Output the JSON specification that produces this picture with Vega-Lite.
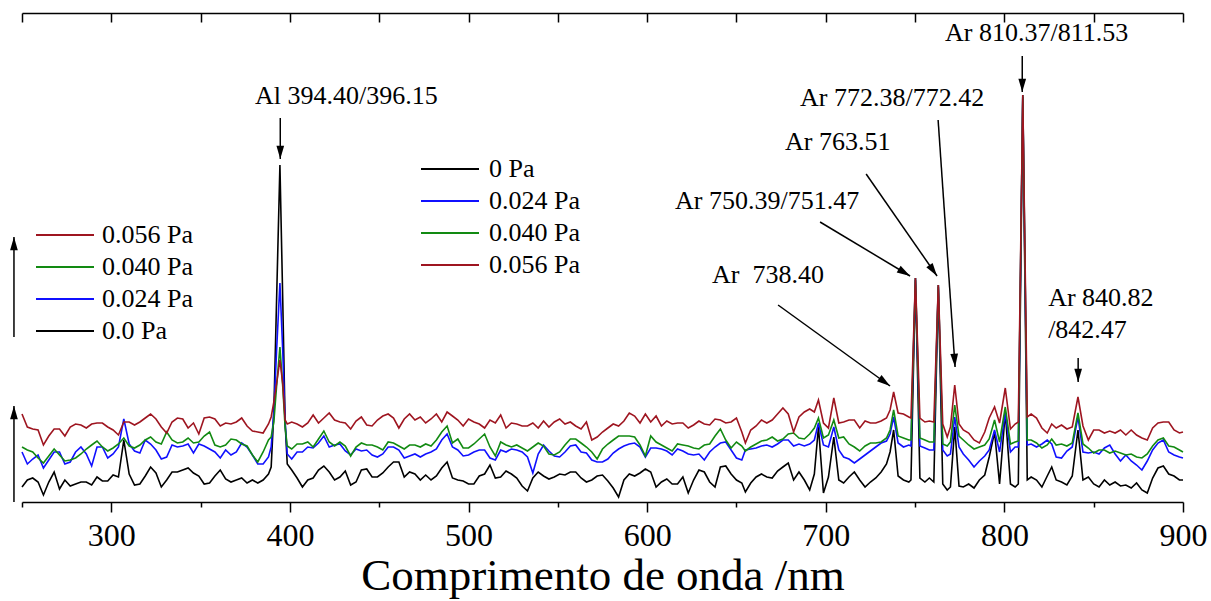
{
  "$schema": "https://vega.github.io/schema/vega-lite/v6.json",
  "width": 1161,
  "height": 489,
  "autosize": {"type": "none"},
  "padding": {"left": 22, "top": 13, "right": 28, "bottom": 99},
  "background": "white",
  "config": {"view": {"stroke": null}, "font": "Liberation Serif, Times New Roman, DejaVu Serif, serif"},
  "datasets": {
    "spectra": [
      {"w":250,"k":15,"b":50,"g":55,"r":88},
      {"w":253,"k":22,"b":38,"g":52,"r":75},
      {"w":256,"k":24,"b":43,"g":50,"r":73},
      {"w":259,"k":20,"b":47,"g":44,"r":72},
      {"w":262,"k":7,"b":34,"g":39,"r":57},
      {"w":265,"k":20,"b":42,"g":46,"r":66},
      {"w":268,"k":30,"b":50,"g":53,"r":73},
      {"w":271,"k":13,"b":50,"g":47,"r":73},
      {"w":274,"k":22,"b":38,"g":41,"r":66},
      {"w":277,"k":16,"b":40,"g":42,"r":75},
      {"w":280,"k":18,"b":50,"g":44,"r":78},
      {"w":283,"k":20,"b":55,"g":48,"r":77},
      {"w":286,"k":20,"b":48,"g":53,"r":74},
      {"w":289,"k":17,"b":36,"g":57,"r":78},
      {"w":292,"k":25,"b":55,"g":61,"r":79},
      {"w":295,"k":21,"b":55,"g":55,"r":79},
      {"w":298,"k":21,"b":44,"g":51,"r":75},
      {"w":301,"k":27,"b":48,"g":54,"r":72},
      {"w":304,"k":25,"b":55,"g":58,"r":67},
      {"w":307,"k":62,"b":83,"g":64,"r":80},
      {"w":310,"k":28,"b":58,"g":56,"r":80},
      {"w":313,"k":17,"b":51,"g":54,"r":77},
      {"w":316,"k":18,"b":49,"g":57,"r":80},
      {"w":319,"k":26,"b":62,"g":62,"r":84},
      {"w":322,"k":35,"b":58,"g":65,"r":88},
      {"w":325,"k":29,"b":52,"g":60,"r":83},
      {"w":328,"k":15,"b":43,"g":58,"r":75},
      {"w":331,"k":22,"b":45,"g":70,"r":69},
      {"w":334,"k":30,"b":57,"g":62,"r":80},
      {"w":337,"k":30,"b":55,"g":59,"r":84},
      {"w":340,"k":32,"b":56,"g":60,"r":83},
      {"w":343,"k":34,"b":58,"g":64,"r":74},
      {"w":346,"k":29,"b":49,"g":59,"r":79},
      {"w":349,"k":26,"b":58,"g":60,"r":68},
      {"w":352,"k":18,"b":56,"g":66,"r":84},
      {"w":355,"k":19,"b":53,"g":70,"r":85},
      {"w":358,"k":26,"b":50,"g":57,"r":83},
      {"w":361,"k":32,"b":44,"g":55,"r":76},
      {"w":364,"k":23,"b":52,"g":57,"r":79},
      {"w":367,"k":20,"b":47,"g":63,"r":78},
      {"w":370,"k":22,"b":50,"g":62,"r":80},
      {"w":373,"k":24,"b":59,"g":58,"r":84},
      {"w":376,"k":19,"b":55,"g":56,"r":76},
      {"w":379,"k":22,"b":47,"g":47,"r":71},
      {"w":382,"k":19,"b":38,"g":40,"r":70},
      {"w":385,"k":22,"b":38,"g":50,"r":69},
      {"w":388,"k":28,"b":45,"g":62,"r":78},
      {"w":389.5,"k":35,"b":55,"g":65,"r":85},
      {"w":391,"k":90,"b":90,"g":80,"r":100},
      {"w":392.5,"k":200,"b":150,"g":115,"r":118},
      {"w":394.4,"k":337,"b":219,"g":155,"r":142},
      {"w":396,"k":200,"b":150,"g":115,"r":118},
      {"w":397.3,"k":80,"b":80,"g":75,"r":82},
      {"w":398.5,"k":38,"b":48,"g":56,"r":78},
      {"w":401,"k":32,"b":43,"g":53,"r":80},
      {"w":404,"k":24,"b":50,"g":58,"r":78},
      {"w":407,"k":15,"b":50,"g":58,"r":75},
      {"w":410,"k":22,"b":55,"g":60,"r":79},
      {"w":413,"k":24,"b":54,"g":55,"r":87},
      {"w":416,"k":32,"b":59,"g":63,"r":79},
      {"w":419,"k":36,"b":66,"g":71,"r":84},
      {"w":422,"k":30,"b":55,"g":60,"r":89},
      {"w":425,"k":22,"b":57,"g":56,"r":82},
      {"w":428,"k":25,"b":58,"g":60,"r":80},
      {"w":431,"k":31,"b":51,"g":56,"r":79},
      {"w":434,"k":17,"b":47,"g":46,"r":73},
      {"w":437,"k":20,"b":53,"g":55,"r":81},
      {"w":440,"k":32,"b":51,"g":59,"r":85},
      {"w":443,"k":33,"b":52,"g":57,"r":77},
      {"w":446,"k":25,"b":47,"g":57,"r":76},
      {"w":449,"k":25,"b":45,"g":55,"r":82},
      {"w":452,"k":29,"b":48,"g":52,"r":86},
      {"w":455,"k":35,"b":55,"g":60,"r":88},
      {"w":458,"k":40,"b":55,"g":59,"r":84},
      {"w":461,"k":40,"b":52,"g":56,"r":74},
      {"w":464,"k":25,"b":44,"g":53,"r":83},
      {"w":467,"k":30,"b":46,"g":57,"r":88},
      {"w":470,"k":28,"b":48,"g":57,"r":82},
      {"w":473,"k":22,"b":45,"g":55,"r":85},
      {"w":476,"k":27,"b":48,"g":58,"r":79},
      {"w":479,"k":22,"b":50,"g":56,"r":83},
      {"w":482,"k":26,"b":53,"g":62,"r":88},
      {"w":485,"k":34,"b":62,"g":70,"r":80},
      {"w":488,"k":40,"b":68,"g":76,"r":90},
      {"w":491,"k":24,"b":55,"g":59,"r":86},
      {"w":494,"k":22,"b":52,"g":63,"r":82},
      {"w":497,"k":21,"b":46,"g":54,"r":76},
      {"w":500,"k":18,"b":47,"g":54,"r":83},
      {"w":503,"k":18,"b":50,"g":58,"r":80},
      {"w":506,"k":26,"b":52,"g":63,"r":78},
      {"w":509,"k":28,"b":52,"g":68,"r":74},
      {"w":512,"k":37,"b":44,"g":55,"r":82},
      {"w":515,"k":24,"b":42,"g":46,"r":79},
      {"w":518,"k":25,"b":52,"g":60,"r":87},
      {"w":521,"k":31,"b":50,"g":57,"r":74},
      {"w":524,"k":28,"b":53,"g":55,"r":79},
      {"w":527,"k":24,"b":52,"g":57,"r":78},
      {"w":530,"k":16,"b":50,"g":54,"r":76},
      {"w":533,"k":11,"b":45,"g":51,"r":76},
      {"w":536,"k":24,"b":29,"g":55,"r":79},
      {"w":539,"k":30,"b":48,"g":59,"r":74},
      {"w":542,"k":26,"b":57,"g":56,"r":81},
      {"w":545,"k":23,"b":51,"g":48,"r":75},
      {"w":548,"k":25,"b":46,"g":47,"r":80},
      {"w":551,"k":28,"b":45,"g":50,"r":83},
      {"w":554,"k":27,"b":50,"g":57,"r":78},
      {"w":557,"k":30,"b":56,"g":63,"r":80},
      {"w":560,"k":30,"b":57,"g":63,"r":76},
      {"w":563,"k":24,"b":50,"g":59,"r":73},
      {"w":566,"k":20,"b":49,"g":55,"r":80},
      {"w":569,"k":22,"b":42,"g":50,"r":62},
      {"w":572,"k":26,"b":40,"g":43,"r":65},
      {"w":575,"k":27,"b":40,"g":53,"r":70},
      {"w":578,"k":21,"b":43,"g":58,"r":74},
      {"w":581,"k":14,"b":49,"g":62,"r":78},
      {"w":584,"k":5,"b":53,"g":66,"r":76},
      {"w":587,"k":22,"b":56,"g":66,"r":81},
      {"w":590,"k":28,"b":58,"g":66,"r":89},
      {"w":593,"k":26,"b":59,"g":65,"r":86},
      {"w":596,"k":29,"b":55,"g":57,"r":79},
      {"w":599,"k":33,"b":45,"g":46,"r":88},
      {"w":602,"k":30,"b":54,"g":66,"r":80},
      {"w":605,"k":15,"b":54,"g":60,"r":86},
      {"w":608,"k":20,"b":53,"g":57,"r":76},
      {"w":611,"k":23,"b":51,"g":54,"r":81},
      {"w":614,"k":18,"b":47,"g":51,"r":78},
      {"w":617,"k":18,"b":53,"g":58,"r":79},
      {"w":620,"k":25,"b":51,"g":57,"r":79},
      {"w":623,"k":9,"b":48,"g":56,"r":74},
      {"w":626,"k":22,"b":47,"g":54,"r":77},
      {"w":629,"k":32,"b":48,"g":53,"r":81},
      {"w":632,"k":30,"b":42,"g":57,"r":78},
      {"w":635,"k":20,"b":50,"g":58,"r":77},
      {"w":638,"k":15,"b":55,"g":66,"r":83},
      {"w":641,"k":35,"b":59,"g":73,"r":82},
      {"w":644,"k":36,"b":60,"g":62,"r":79},
      {"w":647,"k":28,"b":52,"g":54,"r":80},
      {"w":650,"k":22,"b":44,"g":60,"r":84},
      {"w":653,"k":19,"b":42,"g":56,"r":70},
      {"w":655,"k":10,"b":52,"g":51,"r":59},
      {"w":658,"k":19,"b":53,"g":55,"r":72},
      {"w":661,"k":25,"b":54,"g":58,"r":76},
      {"w":664,"k":28,"b":56,"g":61,"r":82},
      {"w":667,"k":25,"b":57,"g":62,"r":79},
      {"w":670,"k":24,"b":55,"g":65,"r":82},
      {"w":673,"k":31,"b":58,"g":61,"r":88},
      {"w":676,"k":35,"b":62,"g":63,"r":94},
      {"w":679,"k":39,"b":62,"g":68,"r":88},
      {"w":682,"k":22,"b":56,"g":69,"r":70},
      {"w":685,"k":30,"b":58,"g":64,"r":85},
      {"w":688,"k":22,"b":56,"g":63,"r":90},
      {"w":691,"k":12,"b":58,"g":68,"r":93},
      {"w":693.6,"k":28,"b":62,"g":74,"r":90},
      {"w":695.9,"k":75,"b":79,"g":84,"r":102},
      {"w":698.7,"k":9,"b":57,"g":64,"r":79},
      {"w":701.5,"k":25,"b":55,"g":67,"r":74},
      {"w":704.5,"k":65,"b":75,"g":82,"r":104},
      {"w":707.3,"k":22,"b":52,"g":64,"r":79},
      {"w":710,"k":19,"b":45,"g":65,"r":80},
      {"w":713,"k":25,"b":43,"g":58,"r":82},
      {"w":716,"k":30,"b":39,"g":55,"r":82},
      {"w":719,"k":22,"b":43,"g":51,"r":74},
      {"w":722,"k":15,"b":47,"g":56,"r":81},
      {"w":725,"k":20,"b":51,"g":59,"r":79},
      {"w":728,"k":24,"b":55,"g":59,"r":79},
      {"w":731,"k":30,"b":59,"g":60,"r":81},
      {"w":734,"k":38,"b":61,"g":64,"r":84},
      {"w":736,"k":50,"b":68,"g":72,"r":92},
      {"w":738,"k":72,"b":85,"g":92,"r":110},
      {"w":740.5,"k":26,"b":59,"g":66,"r":89},
      {"w":743.5,"k":22,"b":55,"g":64,"r":88},
      {"w":746.5,"k":20,"b":57,"g":62,"r":85},
      {"w":747.7,"k":22,"b":56,"g":62,"r":84},
      {"w":750.2,"k":222,"b":224,"g":224,"r":224},
      {"w":752.7,"k":24,"b":56,"g":64,"r":84},
      {"w":755.5,"k":20,"b":54,"g":62,"r":80},
      {"w":758,"k":24,"b":52,"g":60,"r":81},
      {"w":760.5,"k":20,"b":52,"g":60,"r":80},
      {"w":763,"k":215,"b":217,"g":217,"r":217},
      {"w":765.5,"k":18,"b":52,"g":58,"r":78},
      {"w":768,"k":12,"b":46,"g":56,"r":65},
      {"w":769.8,"k":15,"b":48,"g":60,"r":75},
      {"w":772.2,"k":75,"b":85,"g":97,"r":117},
      {"w":774.6,"k":16,"b":55,"g":66,"r":78},
      {"w":777,"k":15,"b":48,"g":62,"r":72},
      {"w":780,"k":18,"b":42,"g":57,"r":69},
      {"w":783,"k":14,"b":35,"g":53,"r":62},
      {"w":786,"k":22,"b":41,"g":55,"r":59},
      {"w":789,"k":27,"b":46,"g":57,"r":70},
      {"w":791.5,"k":45,"b":52,"g":63,"r":84},
      {"w":794.5,"k":70,"b":72,"g":82,"r":95},
      {"w":797.3,"k":18,"b":50,"g":60,"r":79},
      {"w":800.5,"k":90,"b":89,"g":95,"r":114},
      {"w":803.4,"k":18,"b":50,"g":58,"r":73},
      {"w":806,"k":15,"b":55,"g":60,"r":78},
      {"w":807.8,"k":18,"b":55,"g":61,"r":80},
      {"w":810.3,"k":405,"b":407,"g":407,"r":407},
      {"w":812.8,"k":22,"b":57,"g":62,"r":85},
      {"w":815,"k":25,"b":58,"g":62,"r":88},
      {"w":818,"k":22,"b":55,"g":59,"r":84},
      {"w":821,"k":15,"b":58,"g":54,"r":74},
      {"w":824,"k":26,"b":62,"g":57,"r":69},
      {"w":826.5,"k":35,"b":58,"g":63,"r":78},
      {"w":829,"k":22,"b":45,"g":57,"r":74},
      {"w":832,"k":20,"b":44,"g":58,"r":77},
      {"w":835,"k":17,"b":51,"g":56,"r":73},
      {"w":838,"k":26,"b":55,"g":59,"r":75},
      {"w":841.2,"k":72,"b":85,"g":89,"r":105},
      {"w":844,"k":22,"b":50,"g":58,"r":76},
      {"w":847,"k":25,"b":49,"g":54,"r":62},
      {"w":850,"k":18,"b":50,"g":49,"r":72},
      {"w":853,"k":15,"b":48,"g":52,"r":72},
      {"w":856,"k":22,"b":54,"g":52,"r":69},
      {"w":859,"k":17,"b":57,"g":49,"r":71},
      {"w":862,"k":20,"b":48,"g":51,"r":69},
      {"w":865,"k":16,"b":41,"g":49,"r":72},
      {"w":868,"k":17,"b":47,"g":47,"r":67},
      {"w":871,"k":14,"b":41,"g":48,"r":72},
      {"w":874,"k":19,"b":37,"g":45,"r":67},
      {"w":877,"k":12,"b":32,"g":44,"r":64},
      {"w":880,"k":9,"b":41,"g":48,"r":62},
      {"w":883,"k":24,"b":52,"g":56,"r":74},
      {"w":886,"k":34,"b":59,"g":62,"r":79},
      {"w":889,"k":36,"b":62,"g":64,"r":80},
      {"w":892,"k":28,"b":50,"g":56,"r":80},
      {"w":895,"k":26,"b":47,"g":55,"r":72},
      {"w":898,"k":22,"b":45,"g":52,"r":69},
      {"w":900,"k":22,"b":44,"g":50,"r":70}
    ],
    "notes": [
      {"x":380.5,"y":398,"t":"Al 394.40/396.15"},
      {"x":766.8,"y":461,"t":"Ar 810.37/811.53"},
      {"x":685.6,"y":396,"t":"Ar 772.38/772.42"},
      {"x":677.2,"y":352,"t":"Ar 763.51"},
      {"x":615.6,"y":293,"t":"Ar 750.39/751.47"},
      {"x":636.3,"y":219,"t":"Ar\u00a0 738.40"},
      {"x":824.5,"y":196,"t":"Ar 840.82"},
      {"x":824.5,"y":164,"t":"/842.47"}
    ],
    "arrows": [
      {"x1":394.6,"y1":384,"x2":394.6,"y2":343},
      {"x1":810.0,"y1":446,"x2":810.0,"y2":410},
      {"x1":841.3,"y1":144,"x2":841.3,"y2":120},
      {"x1":762.9,"y1":382,"x2":772.4,"y2":135},
      {"x1":722.6,"y1":328,"x2":762.3,"y2":226},
      {"x1":696.8,"y1":280,"x2":747.2,"y2":226},
      {"x1":673.3,"y1":197,"x2":736.0,"y2":116},
      {"x1":245.5,"y1":165,"x2":245.5,"y2":265},
      {"x1":245.5,"y1":0,"x2":245.5,"y2":96}
    ]
  },
  "layer": [
    {
      "data": {"name": "spectra"},
      "transform": [
        {"fold": ["k", "b", "g", "r"], "as": ["p", "I"]},
        {"filter": "datum.w < 0"}
      ],
      "mark": {"type": "line", "strokeWidth": 1.6},
      "encoding": {
        "x": {"field": "w", "type": "quantitative", "scale": {"domain": [250, 900], "nice": false, "zero": false}, "axis": null},
        "y": {"field": "I", "type": "quantitative", "scale": {"domain": [0, 489], "nice": false, "zero": false}, "axis": null},
        "color": {
          "field": "p", "type": "nominal",
          "scale": {"domain": ["r", "g", "b", "k"], "range": ["#9e1520", "#128a12", "#1010ff", "#000000"]},
          "legend": {
            "orient": "none", "legendX": 13, "legendY": 209, "title": null,
            "symbolType": "stroke", "symbolSize": 3364, "symbolStrokeWidth": 2,
            "labelFont": "Liberation Serif, Times New Roman, DejaVu Serif, serif", "labelFontSize": 26, "labelColor": "black",
            "labelOffset": 7, "rowPadding": 6, "clipHeight": 26,
            "labelExpr": "datum.label == 'r' ? '0.056 Pa' : datum.label == 'g' ? '0.040 Pa' : datum.label == 'b' ? '0.024 Pa' : '0.0 Pa'"
          }
        }
      }
    },
    {
      "data": {"name": "spectra"},
      "transform": [{"fold": ["k", "b", "g", "r"], "as": ["p", "I"]}],
      "mark": {"type": "line", "strokeWidth": 1.6},
      "encoding": {
        "x": {
          "field": "w", "type": "quantitative",
          "scale": {"domain": [250, 900], "nice": false, "zero": false},
          "axis": {
            "orient": "bottom",
            "values": [250, 300, 350, 400, 450, 500, 550, 600, 650, 700, 750, 800, 850, 900],
            "format": "d",
            "labelExpr": "datum.value % 100 === 0 ? datum.label : ''",
            "labelFont": "Liberation Serif, Times New Roman, DejaVu Serif, serif", "labelFontSize": 32, "labelColor": "black",
            "labelPadding": 8, "labelFlush": false, "labelOverlap": false,
            "tickSize": {"condition": {"test": "datum.value % 100 === 0", "value": 10}, "value": 5},
            "tickColor": "black", "tickWidth": 1.5,
            "domainColor": "black", "domainWidth": 1.5, "grid": false,
            "title": "Comprimento de onda /nm",
            "titleFont": "Liberation Serif, Times New Roman, DejaVu Serif, serif", "titleFontSize": 45, "titleFontWeight": "normal",
            "titleColor": "black", "titlePadding": 2
          }
        },
        "y": {"field": "I", "type": "quantitative", "scale": {"domain": [0, 489], "nice": false, "zero": false}, "axis": null},
        "color": {
          "field": "p", "type": "nominal",
          "scale": {"domain": ["k", "b", "g", "r"], "range": ["#000000", "#1010ff", "#128a12", "#9e1520"]},
          "legend": {
            "orient": "none", "legendX": 398, "legendY": 143, "title": null,
            "symbolType": "stroke", "symbolSize": 3364, "symbolStrokeWidth": 2,
            "labelFont": "Liberation Serif, Times New Roman, DejaVu Serif, serif", "labelFontSize": 26, "labelColor": "black",
            "labelOffset": 9, "rowPadding": 6, "clipHeight": 26,
            "labelExpr": "datum.label == 'k' ? '0 Pa' : datum.label == 'b' ? '0.024 Pa' : datum.label == 'g' ? '0.040 Pa' : '0.056 Pa'"
          }
        }
      }
    },
    {
      "data": {"name": "arrows"},
      "mark": {"type": "rule", "color": "black", "strokeWidth": 1.5},
      "encoding": {
        "x": {
          "field": "x1", "type": "quantitative",
          "scale": {"domain": [250, 900], "nice": false, "zero": false},
          "axis": {
            "orient": "top",
            "values": [250, 300, 350, 400, 450, 500, 550, 600, 650, 700, 750, 800, 850, 900],
            "labels": false, "tickSize": -9, "tickColor": "black", "tickWidth": 1.5,
            "domainColor": "black", "domainWidth": 1.5, "grid": false, "title": null
          }
        },
        "x2": {"field": "x2"},
        "y": {"field": "y1", "type": "quantitative", "scale": {"domain": [0, 489], "nice": false, "zero": false}, "axis": null},
        "y2": {"field": "y2"}
      }
    },
    {
      "data": {"name": "arrows"},
      "transform": [
        {"calculate": "atan2((datum.x2 - datum.x1) * 1161 / 650, datum.y2 - datum.y1) * 180 / PI", "as": "a"}
      ],
      "mark": {"type": "point", "shape": "M0,0L-0.55,1.9L0.55,1.9Z", "filled": true, "color": "black", "size": 196, "opacity": 1, "strokeWidth": 0},
      "encoding": {
        "x": {"field": "x2", "type": "quantitative", "scale": {"domain": [250, 900], "nice": false, "zero": false}, "axis": null},
        "y": {"field": "y2", "type": "quantitative", "scale": {"domain": [0, 489], "nice": false, "zero": false}, "axis": null},
        "angle": {"field": "a", "type": "quantitative", "scale": null}
      }
    },
    {
      "data": {"name": "notes"},
      "mark": {"type": "text", "align": "left", "baseline": "alphabetic", "font": "Liberation Serif, Times New Roman, DejaVu Serif, serif", "fontSize": 26, "color": "black"},
      "encoding": {
        "x": {"field": "x", "type": "quantitative", "scale": {"domain": [250, 900], "nice": false, "zero": false}, "axis": null},
        "y": {"field": "y", "type": "quantitative", "scale": {"domain": [0, 489], "nice": false, "zero": false}, "axis": null},
        "text": {"field": "t"}
      }
    }
  ],
  "resolve": {"scale": {"color": "independent"}, "axis": {"x": "independent"}}
}
